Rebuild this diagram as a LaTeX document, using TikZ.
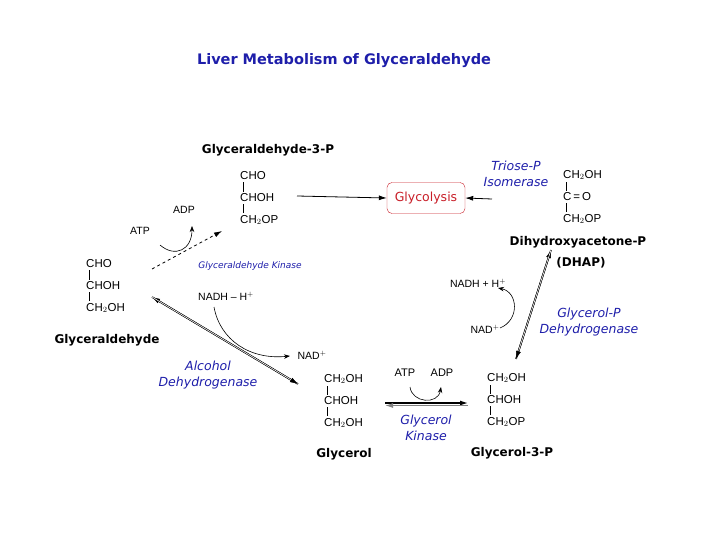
\documentclass[tikz,border=0pt]{standalone}
\usepackage{fontspec}
\setmainfont{Liberation Sans}
\newfontfamily\lbl{DejaVu Sans}
\usetikzlibrary{arrows.meta}
\definecolor{eblue}{RGB}{30,30,170}
\definecolor{gred}{RGB}{200,30,40}
\tikzset{
 chem/.style={font=\fontsize{11.5}{13}\selectfont,inner sep=0pt,anchor=west},
 mname/.style={font=\lbl\bfseries\fontsize{12}{14}\selectfont,inner sep=0pt},
 enz/.style={font=\lbl\itshape\fontsize{12.5}{16}\selectfont,text=eblue,align=center,inner sep=0pt},
 cof/.style={font=\fontsize{10.5}{12}\selectfont,inner sep=0pt},
 bar/.style={line width=0.6pt},
 arr/.style={-{Latex[length=8pt,width=5pt]},line width=0.8pt},
 curv/.style={-{Stealth[length=6pt]},line width=0.6pt},
}
\newcommand\struct[6]{%
 \node[chem] (#1a) at (#2,#3) {#4};
 \node[chem] (#1b) at (#2,#3+22) {#5};
 \node[chem] (#1c) at (#2,#3+44) {#6};
 \draw[bar] ([xshift=3pt,yshift=-2pt]#1a.south west) -- ([xshift=3pt,yshift=2pt]#1b.north west);
 \draw[bar] ([xshift=3pt,yshift=-2pt]#1b.south west) -- ([xshift=3pt,yshift=2pt]#1c.north west);
}
\begin{document}
\begin{tikzpicture}[x=1pt,y=-1pt]
\useasboundingbox (0,0) rectangle (720,540);
\node[font=\lbl\bfseries\fontsize{14.5}{16}\selectfont,text=eblue] (title) at (344,61) {Liver Metabolism of Glyceraldehyde};
% G3P
\node[mname] (g3pn) at (268,150) {Glyceraldehyde-3-P};
\struct{g}{240}{176}{CHO}{CHOH}{CH$_2$OP}
\node[draw=gred,rounded corners=5pt,minimum width=78,minimum height=31,text=gred,font=\lbl\fontsize{12.5}{14}\selectfont] (glyc) at (426,198) {Glycolysis};
\coordinate (g3pr) at (297,196);
\draw[arr] (g3pr) -- (glyc.west);
% DHAP
\struct{d}{563}{175}{CH$_2$OH}{C\,=\,O}{CH$_2$OP}
\node[enz] (tpi) at (516,174) {Triose-P\\Isomerase};
\coordinate (dl) at (492,199);
\draw[arr] (dl) -- (glyc.east);
\node[mname] (dn) at (578,242) {Dihydroxyacetone-P};
\node[mname] (dn2) at (581,263) {(DHAP)};
% Glyceraldehyde
\struct{a}{86}{264}{CHO}{CHOH}{CH$_2$OH}
\node[mname] (an) at (107,340) {Glyceraldehyde};
\coordinate (k1) at (152,269);
\coordinate (k2) at (222,231);
\draw[arr,dashed] (k1) -- (k2);
\node[cof] (atp1) at (140,231) {ATP};
\node[cof] (adp1) at (184,210) {ADP};
\draw[curv] (160,245) .. controls (175,258) and (192,250) .. (192,226);
\node[enz,font=\lbl\itshape\fontsize{9}{11}\selectfont] (gk) at (250,266) {Glyceraldehyde Kinase};
% ADH
\coordinate (h1) at (152,297);
\coordinate (h2) at (298,384);
\draw[arr,double,line width=0.5pt] (h2) -- (h1);
\draw[arr,double,line width=0.5pt] (h1) -- (h2);
\node[cof] (nadh1) at (226,296) {NADH -- H$^+$};
\node[cof] (nad1) at (312,355) {NAD$^+$};
\draw[curv] (214,307) .. controls (220,340) and (250,360) .. (290,356);
\node[enz] (adh) at (208,375) {Alcohol\\Dehydrogenase};
% Glycerol
\struct{c}{324}{379}{CH$_2$OH}{CHOH}{CH$_2$OH}
\node[mname] (cn) at (344,454) {Glycerol};
% Glycerol-3-P
\struct{p}{487}{378}{CH$_2$OH}{CHOH}{CH$_2$OP}
\node[mname] (pn) at (512,453) {Glycerol-3-P};
\coordinate (k3) at (385,403);
\coordinate (k4) at (468,403);
\draw[arr,line width=1.2pt] (k3) -- (k4);
\draw[-{Latex[length=8pt,width=5pt]},gray,line width=1.2pt] ([yshift=-2.5pt]k4) -- ([yshift=-2.5pt]k3);
\node[cof,font=\fontsize{11}{13}\selectfont] (atp2) at (405,373) {ATP};
\node[cof,font=\fontsize{11}{13}\selectfont] (adp2) at (442,373) {ADP};
\draw[curv] (410,387) .. controls (412,403) and (438,405) .. (441,387);
\node[enz] (glk) at (426,428) {Glycerol\\Kinase};
% GPDH
\coordinate (q1) at (516,359);
\coordinate (q2) at (551,250);
\draw[arr,double,line width=0.5pt] (q1) -- (q2);
\draw[arr,double,line width=0.5pt] (q2) -- (q1);
\node[cof] (nadh2) at (478,283) {NADH + H$^+$};
\node[cof] (nad2) at (485,329) {NAD$^+$};
\draw[curv] (500,328) .. controls (520,320) and (518,292) .. (498,288);
\node[enz] (gpd) at (589,322) {Glycerol-P\\Dehydrogenase};
\end{tikzpicture}
\end{document}
